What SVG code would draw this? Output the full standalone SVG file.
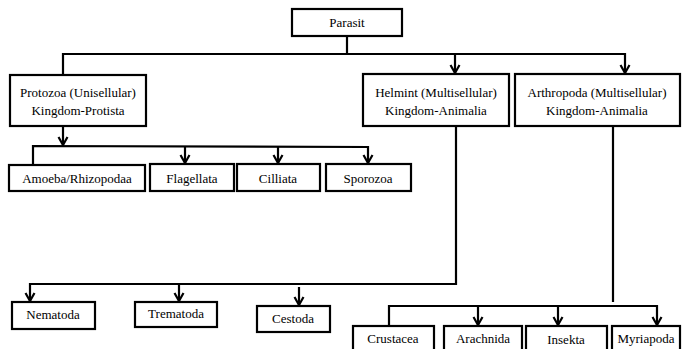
<svg xmlns="http://www.w3.org/2000/svg" width="682" height="349" viewBox="0 0 682 349">
<style>
.box{fill:#fff;stroke:#000;stroke-width:2.2}
.t{font-family:'Liberation Serif','Times New Roman',Times,'DejaVu Serif',serif;font-size:13px;fill:#000;text-anchor:middle}
.c{fill:none;stroke:#000;stroke-width:2.2}
</style>
<defs>
<marker id="arr" markerUnits="userSpaceOnUse" markerWidth="12" markerHeight="12" viewBox="-10 -6 12 12" refX="0" refY="0" orient="auto">
<path d="M-8,-4.5 L0,0 L-8,4.5" fill="none" stroke="#000" stroke-width="2.2"/>
</marker>
</defs>
<rect width="682" height="349" fill="#fff"/>
<g id="connectors">
<polyline class="c" points="347,36 347,54"/>
<polyline class="c" points="63,74 63,54 625,54 625,73" marker-end="url(#arr)"/>
<line class="c" x1="455" y1="54" x2="455" y2="73" marker-end="url(#arr)"/>
<line class="c" x1="63" y1="126" x2="63" y2="145" marker-end="url(#arr)"/>
<polyline class="c" points="33,165 33,146 368,147 368,163" marker-end="url(#arr)"/>
<line class="c" x1="185" y1="146" x2="185" y2="163" marker-end="url(#arr)"/>
<line class="c" x1="278" y1="147" x2="278" y2="163" marker-end="url(#arr)"/>
<polyline class="c" points="456,126 456,284 30,284 30,301" marker-end="url(#arr)"/>
<line class="c" x1="179" y1="284" x2="179" y2="301" marker-end="url(#arr)"/>
<line class="c" x1="299" y1="287" x2="299" y2="305" marker-end="url(#arr)"/>
<line class="c" x1="613" y1="126" x2="613" y2="302"/>
<polyline class="c" points="389,325 389,306 657,306 657,325" marker-end="url(#arr)"/>
<line class="c" x1="478" y1="306" x2="478" y2="325" marker-end="url(#arr)"/>
<line class="c" x1="558" y1="306" x2="558" y2="325" marker-end="url(#arr)"/>
</g>
<g id="parasit"><rect class="box" x="292" y="9" width="110" height="27"/><text class="t" x="347" y="27" font-family="Liberation Serif, serif">Parasit</text></g>
<g id="protozoa"><rect class="box" x="10" y="75" width="136" height="51"/><text class="t" x="78" y="97" font-family="Liberation Serif, serif">Protozoa (Unisellular)</text><text class="t" x="78" y="115" font-family="Liberation Serif, serif">Kingdom-Protista</text></g>
<g id="helmint"><rect class="box" x="363" y="74" width="146" height="52"/><text class="t" x="436" y="97" font-family="Liberation Serif, serif">Helmint (Multisellular)</text><text class="t" x="436" y="115" font-family="Liberation Serif, serif">Kingdom-Animalia</text></g>
<g id="arthropoda"><rect class="box" x="515" y="74" width="165" height="52"/><text class="t" x="597" y="97" font-family="Liberation Serif, serif">Arthropoda (Multisellular)</text><text class="t" x="597" y="115" font-family="Liberation Serif, serif">Kingdom-Animalia</text></g>
<g id="amoeba"><rect class="box" x="9" y="165" width="136" height="26"/><text class="t" x="77" y="183" font-family="Liberation Serif, serif">Amoeba/Rhizopodaa</text></g>
<g id="flagellata"><rect class="box" x="150" y="164" width="84" height="27"/><text class="t" x="192" y="183" font-family="Liberation Serif, serif">Flagellata</text></g>
<g id="cilliata"><rect class="box" x="237" y="164" width="83" height="27"/><text class="t" x="278" y="183" font-family="Liberation Serif, serif">Cilliata</text></g>
<g id="sporozoa"><rect class="box" x="326" y="164" width="85" height="27"/><text class="t" x="368" y="183" font-family="Liberation Serif, serif">Sporozoa</text></g>
<g id="nematoda"><rect class="box" x="12" y="302" width="83" height="27"/><text class="t" x="53" y="319" font-family="Liberation Serif, serif">Nematoda</text></g>
<g id="trematoda"><rect class="box" x="135" y="302" width="82" height="25"/><text class="t" x="176" y="318" font-family="Liberation Serif, serif">Trematoda</text></g>
<g id="cestoda"><rect class="box" x="257" y="306" width="73" height="26"/><text class="t" x="293" y="323" font-family="Liberation Serif, serif">Cestoda</text></g>
<g id="crustacea"><rect class="box" x="353" y="326" width="81" height="30"/><text class="t" x="393" y="343" font-family="Liberation Serif, serif">Crustacea</text></g>
<g id="arachnida"><rect class="box" x="444" y="326" width="78" height="30"/><text class="t" x="483" y="343" font-family="Liberation Serif, serif">Arachnida</text></g>
<g id="insekta"><rect class="box" x="526" y="326" width="81" height="30"/><text class="t" x="566" y="344" font-family="Liberation Serif, serif">Insekta</text></g>
<g id="myriapoda"><rect class="box" x="612" y="326" width="68" height="30"/><text class="t" x="646" y="343" font-family="Liberation Serif, serif">Myriapoda</text></g>
</svg>
